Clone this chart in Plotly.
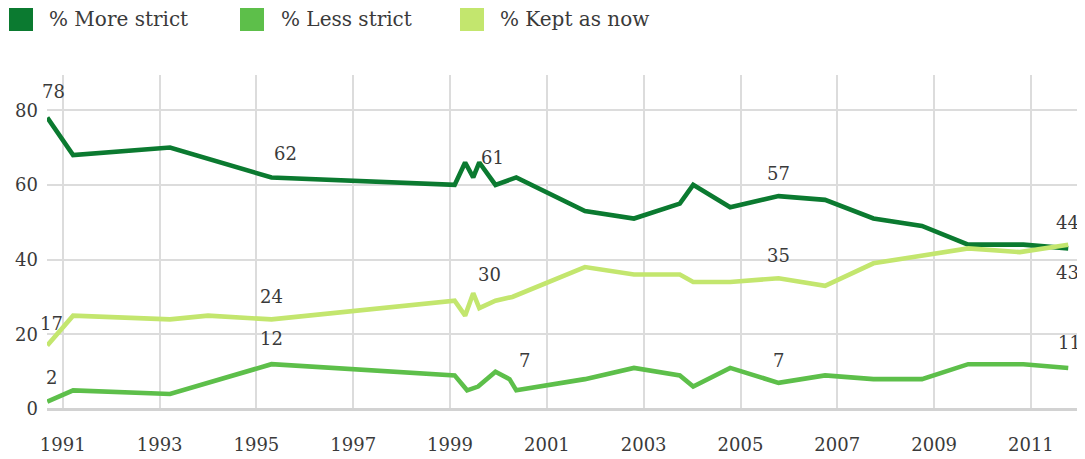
import plotly.graph_objects as go

# ---------------- data ----------------
more_dates = ["1990-09-06", "1991-03-20", "1993-03-20", "1995-04-25", "1999-02-05",
              "1999-04-25", "1999-06-25", "1999-08-10", "1999-12-10", "2000-05-15",
              "2001-10-15", "2002-10-20", "2003-10-01", "2004-01-10", "2004-10-15",
              "2005-10-15", "2006-10-01", "2007-10-01", "2008-10-01", "2009-09-15",
              "2010-11-05", "2011-10-10"]
more_strict = [78, 68, 70, 62, 60, 66, 62, 66, 60, 62, 53, 51, 55, 60, 54, 57, 56, 51, 49, 44, 44, 43]

less_dates = ["1990-09-06", "1991-03-20", "1993-03-20", "1995-04-25", "1999-02-05",
              "1999-05-10", "1999-08-01", "1999-12-10", "2000-03-25", "2000-05-15",
              "2001-10-15", "2002-10-20", "2003-10-01", "2004-01-10", "2004-10-15",
              "2005-10-15", "2006-10-01", "2007-10-01", "2008-10-01", "2009-09-15",
              "2010-11-05", "2011-10-10"]
less_strict = [2, 5, 4, 12, 9, 5, 6, 10, 8, 5, 8, 11, 9, 6, 11, 7, 9, 8, 8, 12, 12, 11]

kept_dates = ["1990-09-06", "1991-03-20", "1993-03-20", "1994-01-01", "1995-04-25",
              "1999-02-05", "1999-04-25", "1999-06-25", "1999-08-10", "1999-12-10",
              "2000-04-15", "2001-10-15", "2002-10-20", "2003-10-01", "2004-01-10",
              "2004-10-15", "2005-10-15", "2006-10-01", "2007-10-01", "2008-10-01",
              "2009-09-15", "2010-10-10", "2011-10-10"]
kept_as_now = [17, 25, 24, 25, 24, 29, 25, 31, 27, 29, 30, 38, 36, 36, 34, 34, 35, 33, 39, 41, 43, 42, 44]

series_names = ["% More strict", "% Less strict", "% Kept as now"]
year_ticks = ["1991", "1993", "1995", "1997", "1999", "2001", "2003", "2005", "2007", "2009", "2011"]
y_ticks = [0, 20, 40, 60, 80]

# ---------------- style ----------------
C_MORE = "#0b7a30"
C_LESS = "#5dbf4a"
C_KEPT = "#c3e66e"
TXT = "#3a3a3a"
FONT = "DejaVu Serif"

OFF = 8  # default page body margin in the browser
W, H = 1085 - OFF, 459 - OFF
ML, MR, MT, MB = 47 - OFF, 8, 75 - OFF, 50
PW, PH = W - ML - MR, H - MT - MB

def px_x(x):
    return (x - OFF - ML) / PW

def px_y(y):
    return (H - MB - (y - OFF)) / PH

fig = go.Figure()
for d, v, c, n in [(more_dates, more_strict, C_MORE, series_names[0]),
                   (less_dates, less_strict, C_LESS, series_names[1]),
                   (kept_dates, kept_as_now, C_KEPT, series_names[2])]:
    fig.add_trace(go.Scatter(x=d, y=v, mode="lines", name=n, showlegend=False,
                             line=dict(color=c, width=4.6), cliponaxis=False,
                             hoverinfo="x+y"))

# data labels: (dates, values, index, text, xshift, yshift)
labels = [
    (more_dates, more_strict, 0, "78", 6, 26),
    (kept_dates, kept_as_now, 0, "17", 4, 22),
    (less_dates, less_strict, 0, "2", 4, 24),
    (more_dates, more_strict, 3, "62", 14, 24),
    (kept_dates, kept_as_now, 4, "24", 0, 23),
    (less_dates, less_strict, 3, "12", 0, 26),
    (more_dates, more_strict, 8, "61", -3, 27),
    (kept_dates, kept_as_now, 9, "30", -6, 26),
    (less_dates, less_strict, 9, "7", 8, 30),
    (more_dates, more_strict, 15, "57", 0, 23),
    (kept_dates, kept_as_now, 16, "35", 0, 23),
    (less_dates, less_strict, 15, "7", 0, 22),
    (kept_dates, kept_as_now, 22, "44", -1, 22),
    (more_dates, more_strict, 21, "43", -1, -24),
    (less_dates, less_strict, 21, "11", 1, 25),
]
for d, v, i, t, dx, dy in labels:
    fig.add_annotation(x=d[i], y=v[i], text=t, showarrow=False, xshift=dx, yshift=dy,
                       font=dict(family=FONT, size=18, color=TXT),
                       xanchor="center", yanchor="middle")

# legend (squares + text), positions in page pixels
legend_items = [(C_MORE, 9, 47), (C_LESS, 240, 279), (C_KEPT, 460, 498)]
for (c, sx, tx), n in zip(legend_items, series_names):
    fig.add_shape(type="rect", xref="paper", yref="paper",
                  x0=px_x(sx), x1=px_x(sx + 24), y0=px_y(31), y1=px_y(8),
                  fillcolor=c, line=dict(width=0))
    fig.add_annotation(xref="paper", yref="paper", x=px_x(tx), y=px_y(19), text=n,
                       showarrow=False, xanchor="left", yanchor="middle",
                       font=dict(family=FONT, size=20, color=TXT))

fig.update_layout(
    width=W, height=H,
    margin=dict(l=ML, r=MR, t=MT, b=MB, pad=0, autoexpand=False),
    paper_bgcolor="white", plot_bgcolor="white",
    font=dict(family=FONT, size=18, color=TXT),
    showlegend=False,
)
fig.update_xaxes(
    type="date", range=["1990-09-04", "2011-12-15"], automargin=False,
    tickvals=[y + "-01-01" for y in year_ticks], ticktext=year_ticks,
    showgrid=True, gridcolor="#dcdcdc", gridwidth=1.5,
    ticks="", ticklabelstandoff=23, zeroline=False, showline=False,
    tickfont=dict(family=FONT, size=18, color=TXT),
)
fig.update_yaxes(
    range=[0, PH / 3.735], automargin=False,
    tickvals=y_ticks, ticktext=[str(v) for v in y_ticks],
    showgrid=True, gridcolor="#dcdcdc", gridwidth=1.5,
    zeroline=True, zerolinecolor="#d2d2d2", zerolinewidth=3,
    ticks="", ticklabelstandoff=8, showline=False,
    tickfont=dict(family=FONT, size=18, color=TXT),
)

fig.write_html("out.html")
